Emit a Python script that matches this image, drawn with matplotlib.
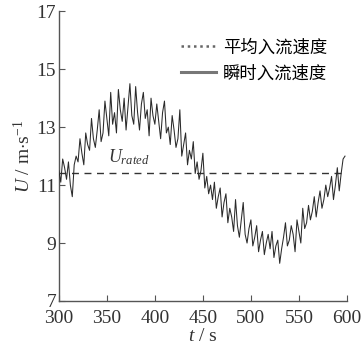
import numpy as np
import matplotlib.pyplot as plt

plt.rcParams['font.family'] = ['Liberation Serif', 'Noto Sans CJK SC']
plt.rcParams['mathtext.fontset'] = 'custom'
plt.rcParams['mathtext.rm'] = 'Liberation Serif'
plt.rcParams['mathtext.it'] = 'Liberation Serif:italic'

# time axis (s), every 2 s
t = np.arange(300, 600, 2)

# instantaneous inflow speed (m/s)
u = [11.5, 11.1, 11.9, 11.6, 11.2, 11.8, 11.0, 10.6, 11.7, 12.0,
     11.8, 12.6, 12.1, 11.7, 12.8, 12.4, 12.2, 13.3, 12.6, 12.3,
     12.9, 13.6, 12.5, 12.8, 13.9, 13.3, 12.7, 14.2, 13.1, 13.5,
     12.8, 14.3, 13.6, 13.2, 14.0, 12.9, 13.7, 14.5, 13.4, 13.1,
     14.4, 13.5, 12.9, 13.8, 14.2, 13.3, 13.6, 12.7, 14.0, 13.4,
     13.1, 13.8, 13.2, 12.6, 13.5, 13.9, 12.8, 13.0, 12.4, 13.4,
     12.9, 12.3, 12.6, 13.6, 12.0, 12.4, 12.8, 11.7, 12.2, 11.9,
     12.5, 11.4, 11.8, 11.2, 11.5, 12.1, 10.9, 11.3, 10.7, 11.0,
     10.5, 11.1, 10.2, 10.6, 10.9, 9.9, 10.4, 10.7, 9.7, 10.2,
     9.9, 9.4, 10.5, 9.6, 9.2, 9.8, 10.4, 9.3, 9.0, 9.5,
     9.8, 8.9, 9.2, 9.6, 8.7, 9.1, 9.4, 8.6, 9.0, 9.3,
     8.8, 9.4, 8.5, 8.9, 9.1, 8.3, 8.8, 9.2, 9.7, 8.9,
     9.1, 9.6, 9.3, 8.7, 9.8, 9.4, 9.0, 10.2, 9.5, 9.7,
     10.3, 9.8, 10.1, 10.6, 9.9, 10.4, 10.8, 10.2, 10.5, 11.0,
     10.6, 10.9, 11.3, 10.5, 11.0, 11.6, 10.8, 11.4, 11.9, 12.0]

u_rated = 11.4

fig = plt.figure(figsize=(3.61, 3.47), dpi=100)
ax = fig.add_axes([0.163, 0.1326, 0.798, 0.835])

ax.plot(t, u, color='#2a2a2a', lw=0.75, zorder=3)
ax.plot([300, 600], [u_rated, u_rated], color='#333333', lw=1.0,
        dashes=(5, 4), zorder=2)

ax.text(351, 11.8, r'$U_{rated}$', fontsize=13, color='#333333')

# legend handles
h1, = ax.plot([], [], color='#666666', lw=1.8, ls=(0, (1, 1.5)))
h2, = ax.plot([], [], color='#777777', lw=2.2)
ax.legend([h1, h2], ['平均入流速度', '瞬时入流速度'], loc='upper right',
          bbox_to_anchor=(0.985, 0.96), frameon=False, handlelength=2.0,
          handletextpad=0.4, labelspacing=0.45,
          prop={'family': 'Noto Sans CJK SC', 'size': 12.5})

ax.set_xlim(300, 600)
ax.set_ylim(7, 17)
ax.set_xticks([300, 350, 400, 450, 500, 550, 600])
ax.set_yticks([7, 9, 11, 13, 15, 17])
ax.spines['top'].set_visible(False)
ax.spines['right'].set_visible(False)
for s in ['left', 'bottom']:
    ax.spines[s].set_color('#555555')
    ax.spines[s].set_linewidth(1.0)
ax.tick_params(direction='in', length=4, width=0.8, colors='#555555',
               labelcolor='#333333', labelsize=14, pad=2)
ax.tick_params(axis='x', pad=6.5)

ax.set_xlabel(r'$t$ / s', fontsize=14, color='#333333', labelpad=1)
ax.set_ylabel(r'$U$ / m$\cdot$s$^{-1}$', fontsize=14, color='#333333', labelpad=2)

fig.savefig('out.png', dpi=100)
